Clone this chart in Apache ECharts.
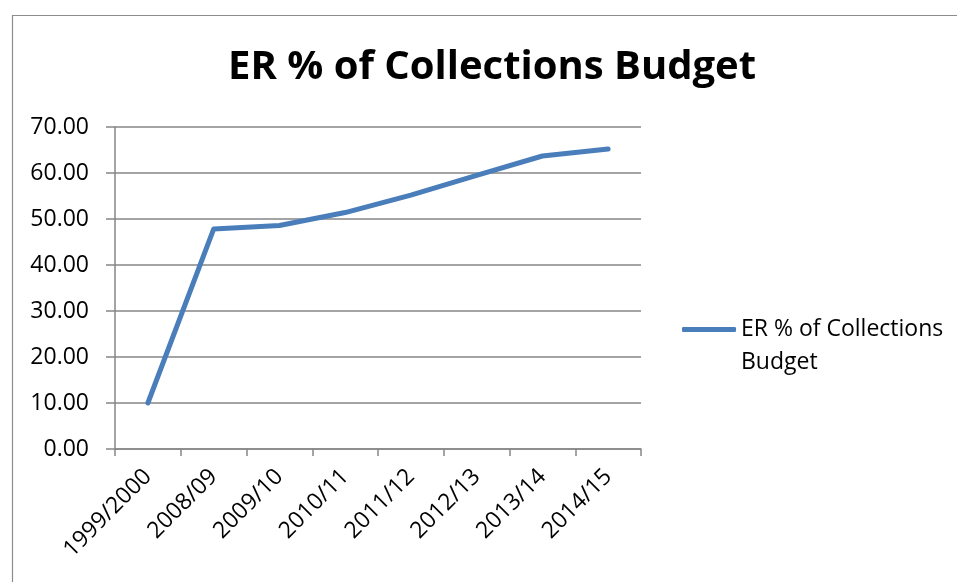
<!DOCTYPE html>
<html>
<head>
<meta charset="utf-8">
<title>ER % of Collections Budget</title>
<script src="https://cdn.jsdelivr.net/npm/echarts@6/dist/echarts.min.js"></script>
<style>
  html, body { margin: 0; padding: 0; background: #ffffff; }
  #chart { width: 957px; height: 582px; }
</style>
</head>
<body>
<div id="chart"></div>
<script>
// Financial years and the ER share (%) of the collections budget
const years = ['1999/2000', '2008/09', '2009/10', '2010/11', '2011/12', '2012/13', '2013/14', '2014/15'];
const erShare = [10.0, 47.8, 48.6, 51.4, 55.2, 59.5, 63.7, 65.2];
const seriesName = 'ER % of Collections Budget';
const chartTitle = 'ER % of Collections Budget';

const gridGrey = '#868686';
const lineBlue = '#4A7EBB';
const font = 'Open Sans';

const chart = echarts.init(document.getElementById('chart'), null, { renderer: 'canvas' });

chart.setOption({
  backgroundColor: '#ffffff',
  animation: false,
  textStyle: { fontFamily: font },
  graphic: [{
    type: 'rect',
    shape: { x: 12.5, y: 15.5, width: 1000, height: 1000 },
    style: { fill: 'none', stroke: '#8c8c8c', lineWidth: 1.2 },
    silent: true
  }],
  title: {
    text: chartTitle,
    left: 228,
    top: 48,
    padding: 0,
    textStyle: { fontFamily: font, fontSize: 40, fontWeight: 'bold', color: '#000000' }
  },
  legend: {
    orient: 'vertical',
    left: 682,
    top: 280,
    padding: 0,
    icon: 'roundRect',
    itemWidth: 54,
    itemHeight: 5,
    itemGap: 0,
    // leading blank line keeps the marker level with the first wrapped line
    formatter: name => '\n' + name,
    textStyle: {
      fontFamily: font,
      fontSize: 23,
      color: '#000000',
      width: 212,
      overflow: 'break',
      lineHeight: 33
    },
    data: [seriesName]
  },
  grid: { left: 115, right: 316, top: 127, bottom: 133, containLabel: false },
  xAxis: {
    type: 'category',
    data: years,
    boundaryGap: true,
    axisLine: { show: true, lineStyle: { color: gridGrey, width: 1.5 } },
    axisTick: { show: true, length: 7, lineStyle: { color: gridGrey, width: 1.5 } },
    axisLabel: {
      interval: 0,
      rotate: 45,
      margin: 24,
      fontFamily: font,
      fontSize: 23,
      color: '#000000'
    },
    splitLine: { show: false }
  },
  yAxis: {
    type: 'value',
    min: 0,
    max: 70,
    interval: 10,
    axisLine: { show: true, lineStyle: { color: gridGrey, width: 1.5 } },
    axisTick: { show: true, length: 9, lineStyle: { color: gridGrey, width: 1.5 } },
    axisLabel: {
      margin: 26,
      fontFamily: font,
      fontSize: 23,
      color: '#000000',
      formatter: v => v.toFixed(2)
    },
    splitLine: { show: true, lineStyle: { color: gridGrey, width: 1.5 } }
  },
  series: [{
    name: seriesName,
    type: 'line',
    data: erShare,
    color: lineBlue,
    showSymbol: false,
    symbol: 'none',
    lineStyle: { color: lineBlue, width: 5, cap: 'round', join: 'round' }
  }]
});
</script>
</body>
</html>
